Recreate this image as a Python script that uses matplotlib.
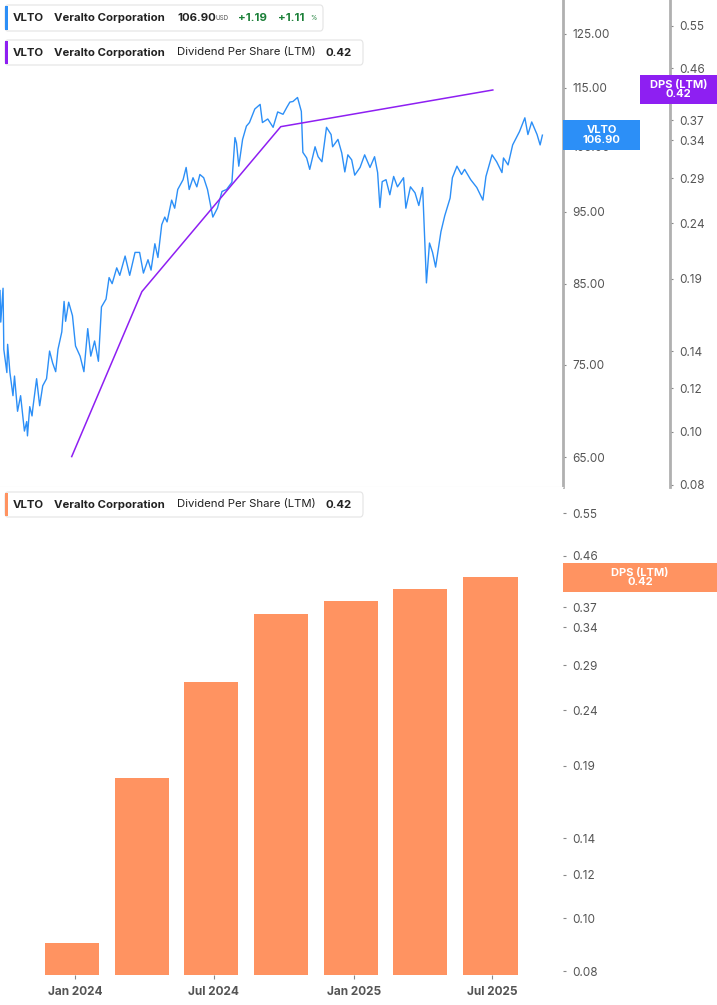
import matplotlib
matplotlib.use("Agg")
import matplotlib.pyplot as plt
from matplotlib.patches import FancyBboxPatch, Rectangle
from matplotlib.ticker import FixedLocator, NullLocator, FixedFormatter
import pandas as pd

plt.rcParams["font.family"] = "Inter"

# ---------------- data ----------------
base_date = "2024-01-01"
price_day_offsets = [-98, -97, -94, -93, -89, -88, -85, -81, -79, -75, -71, -66, -63, -62, -59, -56, -55, -50, -46, -42,
                     -37, -33, -29, -25, -22, -17, -14, -12, -8, -3, 1, 7, 12, 17, 21, 26, 31, 35, 41, 45,
                     49, 55, 59, 66, 72, 79, 85, 90, 96, 100, 105, 109, 114, 118, 121, 127, 131, 135, 142, 146,
                     150, 155, 160, 164, 169, 174, 181, 187, 193, 199, 206, 210, 212, 215, 220, 225, 229, 236, 243, 246,
                     253, 260, 266, 273, 278, 282, 286, 292, 297, 299, 304, 308, 315, 319, 324, 330, 336, 338, 345, 350,
                     354, 358, 363, 367, 374, 380, 387, 393, 397, 400, 403, 408, 413, 418, 423, 431, 434, 440, 446, 451,
                     456, 461, 465, 469, 473, 480, 485, 492, 495, 501, 507, 511, 519, 527, 535, 539, 547, 553, 560, 562,
                     568, 574, 583, 590, 594, 599, 606, 610, 613]
price_values = [84.1, 80.1, 84.4, 76.8, 74.1, 77.4, 74.1, 71.5, 73.7, 69.8, 71.5, 67.7, 68.7, 67.2, 70.3, 69.3, 70.1, 73.4, 70.4, 72.6,
                73.4, 76.6, 75.2, 74.2, 76.8, 78.9, 82.7, 80.2, 82.6, 80.9, 77.2, 76.0, 74.2, 79.3, 76.0, 77.8, 75.4, 82.0, 83.0, 85.8,
                85.0, 87.1, 86.1, 88.7, 86.1, 89.2, 89.2, 86.4, 88.2, 86.8, 90.4, 88.5, 93.1, 94.2, 93.5, 96.7, 95.5, 98.3, 99.8, 101.7,
                98.3, 100.1, 98.7, 100.6, 100.1, 98.3, 94.2, 95.5, 98.0, 98.3, 99.4, 106.5, 105.6, 101.9, 106.2, 108.4, 109.0, 111.3, 112.1, 109.0,
                109.6, 108.2, 110.8, 110.4, 111.6, 112.5, 112.6, 113.3, 110.9, 104.1, 103.2, 101.4, 105.0, 103.4, 102.6, 108.2, 107.0, 105.0, 106.2, 104.0,
                101.0, 103.7, 102.9, 100.5, 101.7, 103.7, 101.7, 103.4, 100.9, 95.6, 99.5, 99.8, 97.5, 100.3, 98.7, 100.1, 95.5, 98.7, 97.8, 95.9,
                98.6, 85.1, 90.5, 89.2, 87.2, 92.1, 94.4, 97.0, 100.1, 101.9, 100.6, 101.4, 99.8, 98.6, 96.7, 100.3, 103.7, 102.6, 100.9, 103.2,
                102.1, 105.3, 107.5, 109.8, 107.0, 109.1, 107.0, 105.3, 106.9]

dps_line_dates = ["2023-12-28", "2024-03-29", "2024-09-27", "2025-07-02"]
dps_line_values = [0.09, 0.18, 0.36, 0.42]

bar_dates = ["2023-12-28", "2024-03-29", "2024-06-28", "2024-09-27", "2024-12-28", "2025-03-29", "2025-06-29"]
bar_values = [0.09, 0.18, 0.27, 0.36, 0.38, 0.40, 0.42]

price_ticks = [65, 75, 85, 95, 105, 115, 125]
dps_ticks = [0.08, 0.10, 0.12, 0.14, 0.19, 0.24, 0.29, 0.34, 0.37, 0.46, 0.55]
x_tick_dates = ["2024-01-01", "2024-07-01", "2025-01-01", "2025-07-01"]
x_tick_labels = ["Jan 2024", "Jul 2024", "Jan 2025", "Jul 2025"]

last_price = 106.90
last_dps = 0.42

# ---------------- styles ----------------
W, H = 717, 1005
BLUE = "#2c8ff7"
PURPLE = "#8e1ff2"
ORANGE = "#ff9361"
TICKC = "#555555"
SPINE = "#b0b0b0"

fig = plt.figure(figsize=(W / 100, H / 100), dpi=100)

def px_axes(x0, y0, x1, y1):
    return fig.add_axes([x0 / W, 1 - y1 / H, (x1 - x0) / W, (y1 - y0) / H])

price_dates = pd.Timestamp(base_date) + pd.to_timedelta(price_day_offsets, unit="D")
xlim = (pd.Timestamp("2023-09-25"), pd.Timestamp("2025-10-02"))

# ---- top panel ----
ax = px_axes(0, 0, 563, 487)
ax2 = ax.twinx()
ax.plot(price_dates, price_values, color=BLUE, lw=1.0)
ax.set_yscale("log")
ax.set_ylim(62.1, 131.7)
ax.set_xlim(*xlim)
ax.yaxis.set_major_locator(FixedLocator(price_ticks))
ax.yaxis.set_major_formatter(FixedFormatter([f"{v:.2f}" for v in price_ticks]))
ax.yaxis.set_minor_locator(NullLocator())
ax.yaxis.tick_right()
ax.tick_params(axis="y", left=False, labelleft=False, right=True, labelright=True,
               length=2, width=0.8, color="#888", labelcolor=TICKC, labelsize=8.5, pad=5)
ax.set_xticks([])
for s in ["top", "left"]:
    ax.spines[s].set_visible(False)
ax.spines["bottom"].set_color("#dddddd")
ax.spines["right"].set_visible(True)
ax.spines["right"].set_color(SPINE)
ax.spines["right"].set_linewidth(2)

ax2.plot(pd.to_datetime(dps_line_dates), dps_line_values, color=PURPLE, lw=1.1)
ax2.set_yscale("log")
ax2.set_ylim(0.0792, 0.613)
ax2.yaxis.set_major_locator(FixedLocator(dps_ticks))
ax2.yaxis.set_major_formatter(FixedFormatter([f"{v:.2f}" for v in dps_ticks]))
ax2.yaxis.set_minor_locator(NullLocator())
ax2.spines["right"].set_position(("outward", 77))
ax2.spines["right"].set_color(SPINE)
ax2.spines["right"].set_linewidth(2)
for s in ["top", "left", "bottom"]:
    ax2.spines[s].set_visible(False)
ax2.tick_params(axis="y", length=2, width=0.8, color="#888", labelcolor=TICKC, labelsize=8.5, pad=5)
ax2.set_xlim(*xlim)

# ---- bottom panel ----
bx = px_axes(0, 487, 563, 975)
bx.bar(pd.to_datetime(bar_dates), bar_values, width=71, color=ORANGE, bottom=0)
bx.set_yscale("log")
bx.set_ylim(0.0787, 0.614)
bx.set_xlim(*xlim)
bx.yaxis.set_major_locator(FixedLocator(dps_ticks))
bx.yaxis.set_major_formatter(FixedFormatter([f"{v:.2f}" for v in dps_ticks]))
bx.yaxis.set_minor_locator(NullLocator())
bx.yaxis.tick_right()
bx.tick_params(axis="y", length=2, width=0.8, color="#888", labelcolor=TICKC, labelsize=8.5, pad=5)
bx.set_xticks(pd.to_datetime(x_tick_dates))
bx.set_xticklabels(x_tick_labels, fontweight="bold")
bx.tick_params(axis="x", length=3, color="#888", labelcolor=TICKC, labelsize=8.5, pad=5)
for s in ["top", "left", "right", "bottom"]:
    bx.spines[s].set_visible(False)

# ---- legend boxes ----
def legend_box(x0, y0, x1, y1, color, parts):
    fig.patches.append(FancyBboxPatch((x0 / W, 1 - y1 / H), (x1 - x0) / W, (y1 - y0) / H,
                                      boxstyle="round,pad=0,rounding_size=0.004", transform=fig.transFigure,
                                      facecolor="white", edgecolor="#e4e4e4", lw=0.8, zorder=5))
    fig.patches.append(Rectangle((x0 / W, 1 - (y1 - 1) / H), 2.5 / W, (y1 - y0 - 2) / H,
                                 transform=fig.transFigure, facecolor=color, edgecolor="none", zorder=6))
    yc = 1 - (y0 + y1) / 2 / H
    for xp, txt, kw in parts:
        fig.text(xp / W, yc, txt, va="center", ha="left", zorder=7, **kw)

B = dict(fontsize=8.2, fontweight="bold", color="#222")
N = dict(fontsize=8.2, color="#222")
G = dict(fontsize=8.2, fontweight="bold", color="#1a7f37")
legend_box(5, 5, 323, 31, BLUE, [
    (13, "VLTO", B), (54, "Veralto Corporation", B), (177, "106.90", B),
    (216, "USD", dict(fontsize=4.5, color="#555")),
    (238, "+1.19", G), (278, "+1.11", G),
    (310, "%", dict(fontsize=4.5, color="#1a7f37"))])
legend_box(5, 40, 363, 65, PURPLE, [
    (13, "VLTO", B), (54, "Veralto Corporation", B), (177, "Dividend Per Share (LTM)", N), (326, "0.42", B)])
legend_box(5, 492, 363, 517, ORANGE, [
    (13, "VLTO", B), (54, "Veralto Corporation", B), (177, "Dividend Per Share (LTM)", N), (326, "0.42", B)])

# ---- value label boxes ----
def value_box(x0, y0, x1, y1, color, text):
    fig.patches.append(Rectangle((x0 / W, 1 - y1 / H), (x1 - x0) / W, (y1 - y0) / H,
                                 transform=fig.transFigure, facecolor=color, edgecolor="none", zorder=8))
    fig.text((x0 + x1) / 2 / W, 1 - (y0 + y1) / 2 / H, text, ha="center", va="center",
             color="white", fontsize=8, fontweight="bold", linespacing=0.95, zorder=9)

value_box(563, 120, 640, 150, BLUE, f"VLTO\n{last_price:.2f}")
value_box(640, 75, 717, 104, PURPLE, f"DPS (LTM)\n{last_dps:.2f}")
value_box(563, 563, 717, 592, ORANGE, f"DPS (LTM)\n{last_dps:.2f}")

fig.savefig("out.png", dpi=100)
